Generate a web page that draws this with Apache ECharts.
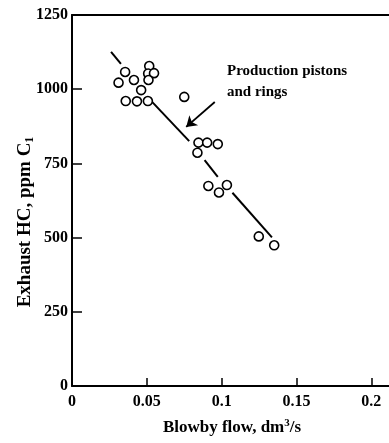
<!DOCTYPE html>
<html><head><meta charset="utf-8">
<script src="https://cdn.jsdelivr.net/npm/echarts@6/dist/echarts.min.js"></script>
<style>html,body{margin:0;padding:0;background:#fff;}#c{width:389px;height:443px;}</style>
</head><body><div id="c"></div>
<script>
// Measured points (Blowby flow dm^3/s, Exhaust HC ppm C1)
const blowbyFlow = [0.0355,0.0311,0.0414,0.0516,0.0509,0.0548,0.0511,0.0462,0.0359,0.0434,0.0507,0.0750,0.0845,0.0903,0.0974,0.0838,0.0911,0.0982,0.1035,0.1248,0.1351];
const exhaustHC  = [1058,1022,1031,1078,1053,1054,1031,997,960,959,960,974,820,820,815,786,674,652,677,504,474];
// Fitted line drawn in segments (start/end pairs)
const fitX = [0.0261,0.0327, 0.0513,0.0783, 0.0886,0.0974, 0.1072,0.1336];
const fitY = [1126,1085, 969,825, 761,705, 651,501];
// Annotation arrow
const arrowFrom = [0.0954, 957];
const arrowTo = [0.0763, 873];
const annotationText = ['Production pistons', 'and rings'];
const xTitle = 'Blowby flow, dm';
const yTitle = 'Exhaust HC, ppm C';

const FONT = '"Liberation Serif","Times New Roman",serif';
const chart = echarts.init(document.getElementById('c'));

const points = blowbyFlow.map((x, i) => [x, exhaustHC[i]]);
const segSeries = [];
for (let i = 0; i < fitX.length; i += 2) {
  segSeries.push({
    type: 'line', data: [[fitX[i], fitY[i]], [fitX[i+1], fitY[i+1]]],
    symbol: 'none', silent: true, z: 2,
    lineStyle: { color: '#000', width: 2 }
  });
}
segSeries[0].markLine = {
  silent: true, symbol: ['none', 'arrow'], symbolSize: 10,
  label: { show: false },
  lineStyle: { color: '#000', width: 1.8, type: 'solid' },
  emphasis: { disabled: true },
  data: [[{ coord: arrowFrom }, { coord: arrowTo }]]
};

chart.setOption({
  animation: false,
  backgroundColor: '#fff',
  grid: { left: 72, top: 15, bottom: 57, right: -10 },
  xAxis: [{
    type: 'value', min: 0, max: 0.2118, interval: 0.05,
    axisLine: { show: true, lineStyle: { color: '#000', width: 2 } },
    axisTick: { show: true, inside: true, length: 8, lineStyle: { color: '#000', width: 1.5 } },
    axisLabel: { color: '#000', fontFamily: FONT, fontWeight: 'bold', fontSize: 16, margin: 8, showMaxLabel: false,
      formatter: v => String(+v.toFixed(4)) },
    splitLine: { show: false }
  }, {
    type: 'value', position: 'top', min: 0, max: 0.2118,
    axisLine: { show: true, lineStyle: { color: '#000', width: 2 } },
    axisTick: { show: false }, axisLabel: { show: false }, splitLine: { show: false }
  }],
  yAxis: {
    type: 'value', min: 0, max: 1250, interval: 250,
    axisLine: { show: true, lineStyle: { color: '#000', width: 2 } },
    axisTick: { show: true, inside: true, length: 10, lineStyle: { color: '#000', width: 1.5 } },
    axisLabel: { color: '#000', fontFamily: FONT, fontWeight: 'bold', fontSize: 16, margin: 4,
      formatter: v => String(v) },
    splitLine: { show: false }
  },
  graphic: [
    { type: 'text', left: 227, top: 61, silent: true,
      style: { text: annotationText.join('\n'), font: 'bold 15px ' + FONT, lineHeight: 21, fill: '#000' } },
    { type: 'text', x: 232, y: 428, silent: true,
      style: { text: '{b|' + xTitle + '}{sup|3}{b|/s}', align: 'center', verticalAlign: 'middle',
        rich: { b: { fontFamily: FONT, fontWeight: 'bold', fontSize: 17, lineHeight: 20, fill: '#000', color: '#000' },
                sup: { fontFamily: FONT, fontWeight: 'bold', fontSize: 11, lineHeight: 20, verticalAlign: 'top', fill: '#000', color: '#000' } } } },
    { type: 'text', x: 25, y: 222, rotation: Math.PI / 2, silent: true,
      style: { text: '{b|' + yTitle + '}{sub|1}', align: 'center', verticalAlign: 'middle',
        rich: { b: { fontFamily: FONT, fontWeight: 'bold', fontSize: 19, lineHeight: 22, fill: '#000', color: '#000' },
                sub: { fontFamily: FONT, fontWeight: 'bold', fontSize: 12, lineHeight: 22, verticalAlign: 'bottom', fill: '#000', color: '#000' } } } }
  ],
  series: segSeries.concat([{
    type: 'scatter', data: points, symbol: 'circle', symbolSize: 9, z: 3,
    itemStyle: { color: '#fff', borderColor: '#000', borderWidth: 1.6, opacity: 1 }
  }])
});
</script></body></html>
